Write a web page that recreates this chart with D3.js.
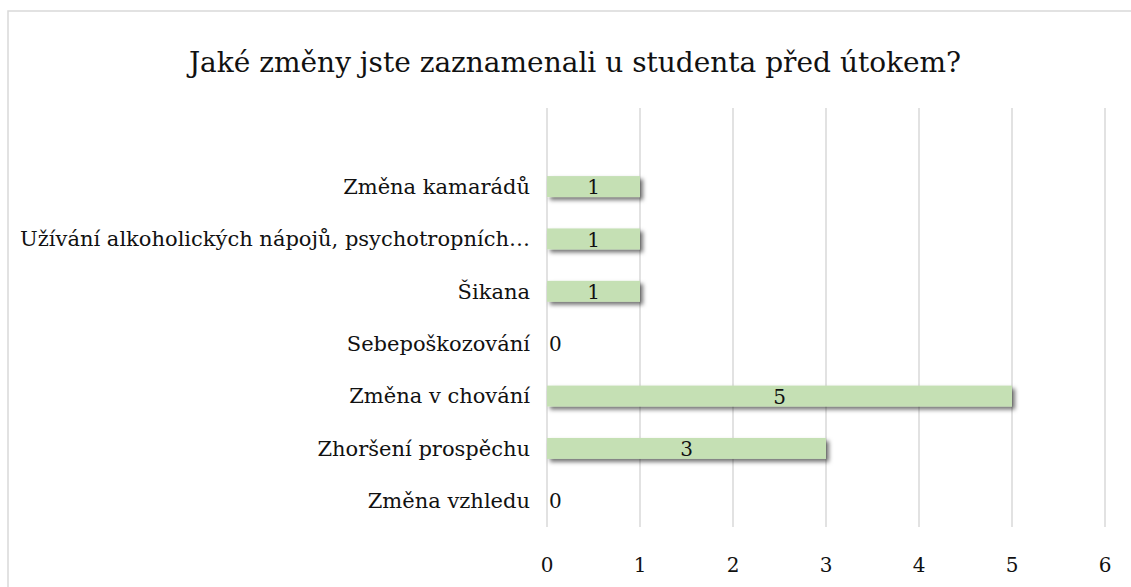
<!DOCTYPE html>
<html>
<head>
<meta charset="utf-8">
<script src="https://cdn.jsdelivr.net/npm/d3@7"></script>
<style>
  body { margin: 0; background: #fff; }
  text { font-family: "DejaVu Serif", "Liberation Serif", serif; fill: #111; }
</style>
</head>
<body>
<div id="chart"></div>
<script>
// categories top to bottom (first slot is empty in the original)
var categories = ["", "Změna kamarádů", "Užívání alkoholických nápojů, psychotropních…", "Šikana",
    "Sebepoškozování", "Změna v chování", "Zhoršení prospěchu", "Změna vzhledu"];
var values = [null, 1, 1, 1, 0, 5, 3, 0];
var ticks = [0, 1, 2, 3, 4, 5, 6];
var title = "Jaké změny jste zaznamenali u studenta před útokem?";

var width = 1131;
var height = 587;

var svg = d3.select("#chart").append("svg")
    .attr("width", width)
    .attr("height", height);

// drop shadow for bars
var defs = svg.append("defs");
var filter = defs.append("filter")
    .attr("id", "shadow")
    .attr("x", "-10%").attr("y", "-30%")
    .attr("width", "120%").attr("height", "180%");
filter.append("feDropShadow")
    .attr("dx", 3)
    .attr("dy", 3)
    .attr("stdDeviation", 2.2)
    .attr("flood-color", "#000")
    .attr("flood-opacity", 0.55);

// chart frame
svg.append("rect")
    .attr("x", 8)
    .attr("y", 11)
    .attr("width", width + 10)
    .attr("height", height + 10)
    .attr("fill", "none")
    .attr("stroke", "#d9d9d9")
    .attr("stroke-width", 1.5);

var x = d3.scaleLinear().domain([0, 6]).range([547, 1105]);
var y = d3.scaleBand().domain(categories).range([108, 527]).paddingInner(0.6).paddingOuter(0.3);

// gridlines
svg.selectAll(".grid")
    .data(ticks)
    .enter().append("line")
    .attr("class", "grid")
    .attr("x1", function(d) { return x(d); })
    .attr("x2", function(d) { return x(d); })
    .attr("y1", 108)
    .attr("y2", 527)
    .attr("stroke", "#d9d9d9")
    .attr("stroke-width", 1.5);

// x tick labels
svg.selectAll(".tick-label")
    .data(ticks)
    .enter().append("text")
    .attr("x", function(d) { return x(d); })
    .attr("y", 572)
    .attr("text-anchor", "middle")
    .attr("font-size", "20px")
    .text(function(d) { return d; });

var rows = categories.map(function(c, i) { return { name: c, value: values[i] }; })
    .filter(function(d) { return d.value !== null; });

// category labels
svg.selectAll(".cat-label")
    .data(rows)
    .enter().append("text")
    .attr("x", 530)
    .attr("y", function(d) { return y(d.name) + y.bandwidth() / 2; })
    .attr("dy", "0.35em")
    .attr("text-anchor", "end")
    .attr("font-size", "21px")
    .text(function(d) { return d.name; });

// bars
svg.selectAll(".bar")
    .data(rows.filter(function(d) { return d.value > 0; }))
    .enter().append("rect")
    .attr("class", "bar")
    .attr("x", x(0))
    .attr("y", function(d) { return y(d.name); })
    .attr("width", function(d) { return x(d.value) - x(0); })
    .attr("height", y.bandwidth())
    .attr("fill", "#c5e0b4")
    .attr("filter", "url(#shadow)");

// value labels
svg.selectAll(".val-label")
    .data(rows)
    .enter().append("text")
    .attr("x", function(d) { return d.value > 0 ? (x(0) + x(d.value)) / 2 : x(0) + 2; })
    .attr("y", function(d) { return y(d.name) + y.bandwidth() / 2; })
    .attr("dy", "0.38em")
    .attr("text-anchor", function(d) { return d.value > 0 ? "middle" : "start"; })
    .attr("font-size", "20px")
    .text(function(d) { return d.value; });

// title
svg.append("text")
    .attr("x", 575)
    .attr("y", 72)
    .attr("text-anchor", "middle")
    .attr("font-size", "28px")
    .text(title);
</script>
</body>
</html>
